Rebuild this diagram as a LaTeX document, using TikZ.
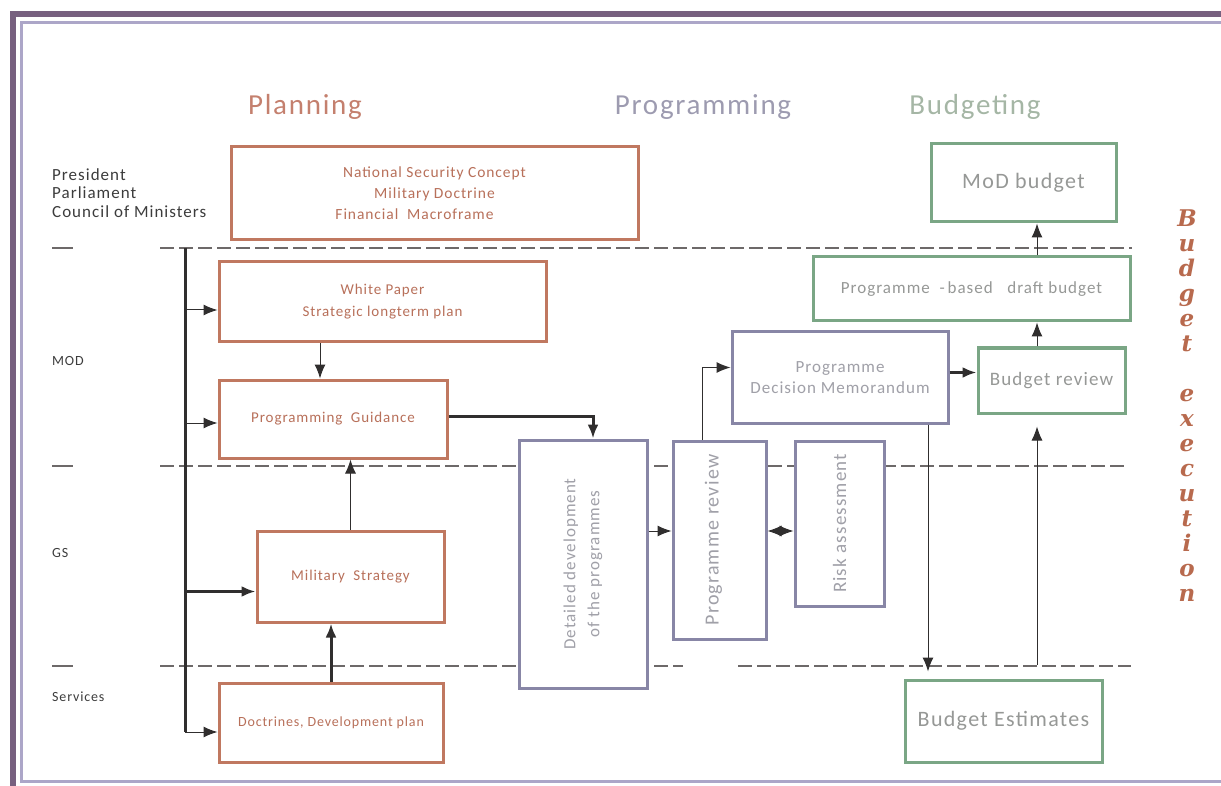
\documentclass[tikz,border=0pt]{standalone}
\usepackage{fontspec}
\setmainfont{Carlito}[LetterSpace=6]
\newfontfamily\execfont{DejaVu Serif}
\usepackage{tikz}
\usetikzlibrary{positioning,calc,arrows.meta}

\definecolor{planbrown}{RGB}{192,120,96}
\definecolor{plantext}{RGB}{184,112,90}
\definecolor{planhead}{RGB}{196,128,110}
\definecolor{progline}{RGB}{136,134,166}
\definecolor{progtext}{RGB}{160,160,168}
\definecolor{proghead}{RGB}{157,155,176}
\definecolor{budline}{RGB}{122,166,133}
\definecolor{budtext}{RGB}{150,152,150}
\definecolor{budhead}{RGB}{165,182,165}
\definecolor{execbrown}{RGB}{184,106,78}
\definecolor{dashgray}{RGB}{109,105,105}
\definecolor{arrowgray}{RGB}{48,46,46}
\definecolor{framepurple}{RGB}{119,96,127}
\definecolor{framelav}{RGB}{172,166,200}
\definecolor{labelgray}{RGB}{60,60,60}

\tikzset{
    planbox/.style={draw=planbrown, line width=3pt, fill=white, text=plantext, align=center, inner sep=0pt},
    progbox/.style={draw=progline, line width=3pt, fill=white, text=progtext, align=center, inner sep=0pt},
    budbox/.style={draw=budline, line width=3pt, fill=white, text=budtext, align=center, inner sep=0pt},
    headtext/.style={anchor=base, font=\fontsize{29}{34}\selectfont},
    rowlabel/.style={anchor=west, align=left, text=labelgray, inner sep=0pt},
    tierline/.style={draw=dashgray, line width=2.6pt, dash pattern=on 14pt off 5pt},
    tiertick/.style={draw=dashgray, line width=2.6pt},
    thinarr/.style={draw=arrowgray, line width=1pt, -{Latex[length=14pt,width=11pt]}},
    thickarr/.style={draw=arrowgray, line width=3pt, -{Latex[length=14pt,width=11pt]}},
    bothtip/.style={draw=arrowgray, line width=1pt, {Latex[length=14pt,width=11pt]}-{Latex[length=14pt,width=11pt]}},
    execstack/.style={anchor=north, align=center, text=execbrown, inner sep=0pt, font=\execfont\bfseries\itshape\fontsize{23}{25}\selectfont}
}

\begin{document}
\begin{tikzpicture}[x=1pt, y=-1pt]
    \useasboundingbox (0,0) rectangle (1221,786);

    % Frame
    \draw[draw=framepurple, line width=6pt] (1221,14) -- (13,14) -- (13,786);
    \draw[draw=framelav, line width=3pt] (1221,22.5) -- (21.5,22.5) -- (21.5,781) -- (1221,781);

    % Column titles
    \node[headtext, text=planhead] (tplan) at (305,115) {Planning};
    \node[headtext, text=proghead] (tprog) at (703,115) {Programming};
    \node[headtext, text=budhead] (tbud) at (975,115) {Budgeting};

    % Row labels
    \node[rowlabel, font=\fontsize{17}{18.5}\selectfont] (lpres) at (52,193) {President\\Parliament\\Council of Ministers};
    \node[rowlabel, font=\fontsize{14}{16}\selectfont] (lmod) at (52,361) {MOD};
    \node[rowlabel, font=\fontsize{14}{16}\selectfont] (lgs) at (52,553) {GS};
    \node[rowlabel, font=\fontsize{14}{16}\selectfont] (lserv) at (52,697) {Services};

    % Tier separators
    \draw[tiertick] (52,248) -- (73,248);
    \draw[tierline] (160,248) -- (1132,248);
    \draw[tiertick] (52,466) -- (73,466);
    \draw[tierline] (160,466) -- (1128,466);
    \draw[tiertick] (52,666) -- (73,666);
    \draw[tierline] (160,666) -- (683,666);
    \draw[tierline] (738,666) -- (1131,666);

    % Planning
    \node[planbox, minimum width=407, minimum height=93, font=\fontsize{15.5}{21}\selectfont] (nsc) at (434.5,193.5) {National Security Concept\\Military Doctrine\\Financial\ \ Macroframe\hspace*{40pt}};
    \node[planbox, minimum width=327, minimum height=80, font=\fontsize{15}{22}\selectfont] (wp) at (382.5,302) {White Paper\\Strategic longterm plan};
    \node[planbox, minimum width=228, minimum height=78, font=\fontsize{15}{18}\selectfont] (pg) at (333,419) {Programming\ \ Guidance};
    \node[planbox, minimum width=187, minimum height=91, font=\fontsize{15}{18}\selectfont] (ms) at (350.5,576.5) {Military\ \ Strategy};
    \node[planbox, minimum width=224, minimum height=79, font=\fontsize{14}{18}\selectfont] (doc) at (331,722.5) {Doctrines, Development plan};

    % Programming
    \node[progbox, minimum width=128, minimum height=248] (det) at (583,564) {};
    \node[text=progtext, rotate=90, align=center, font=\fontsize{17}{24}\selectfont] (dett) at (det) {Detailed development\\of the programmes};
    \node[progbox, minimum width=93, minimum height=198] (prv) at (719.5,540) {};
    \node[text=progtext, rotate=90, font=\fontsize{20}{24}\selectfont] (prvt) at ([xshift=-6pt]prv.center) {Programme review};
    \node[progbox, minimum width=89, minimum height=165] (risk) at (839.5,523.5) {};
    \node[text=progtext, rotate=90, font=\fontsize{19}{24}\selectfont] (riskt) at (risk) {Risk assessment};
    \node[progbox, minimum width=216, minimum height=91, font=\fontsize{17}{21}\selectfont] (pdm) at (840,377.5) {Programme\\Decision Memorandum};

    % Budgeting
    \node[budbox, minimum width=185, minimum height=78, font=\fontsize{22}{24}\selectfont] (mod) at (1023.5,183) {MoD budget};
    \node[budbox, minimum width=317, minimum height=64, font=\fontsize{17}{20}\selectfont] (pbd) at (971.5,289) {Programme\ \ -\,based\ \ \ draft budget};
    \node[budbox, minimum width=147, minimum height=65, font=\fontsize{19}{22}\selectfont] (brv) at (1051.5,380.5) {Budget review};
    \node[budbox, minimum width=197, minimum height=82, font=\fontsize{22}{24}\selectfont] (bes) at (1003.5,721) {Budget Estimates};

    % Budget execution
    \node[execstack] (exec) at (1187,210) {B\\u\\d\\g\\e\\t\\[25pt]e\\x\\e\\c\\u\\t\\i\\o\\n};

    % Distribution line
    \coordinate (ttop) at (185,248);
    \coordinate (tbot) at (185,732);
    \draw[draw=arrowgray, line width=3pt] (ttop) -- (tbot);
    \coordinate (twp) at ([yshift=-8pt]wp.west);
    \coordinate (tpg) at ([yshift=-4pt]pg.west);
    \coordinate (tms) at ([yshift=-15pt]ms.west);
    \draw[thinarr] (ttop |- twp) -- (twp);
    \draw[thinarr] (ttop |- tpg) -- (tpg);
    \draw[thickarr] (ttop |- tms) -- (tms);
    \draw[thinarr] (tbot) -- (tbot -| doc.west);

    % Planning flow
    \draw[thinarr] ([xshift=-13pt]pg.north |- wp.south) -- ([xshift=-13pt]pg.north);
    \draw[thinarr] (ms.north) -- (ms.north |- pg.south);
    \draw[thickarr] (doc.north) -- (doc.north |- ms.south);
    \draw[thickarr] ([yshift=3pt]pg.east) -| ([xshift=10pt]det.north);

    % Programming flow
    \draw[thinarr] ([yshift=33pt]det.east) -- ([yshift=33pt]det.east -| prv.west);
    \draw[thinarr] ([xshift=-17.5pt]prv.north) |- ([yshift=10pt]pdm.west);
    \draw[bothtip] ([yshift=9pt]prv.east) -- ([yshift=9pt]prv.east -| risk.west);
    \draw[thickarr] ([yshift=5pt]pdm.east) -- ([yshift=5pt]pdm.east -| brv.west);
    \draw[thinarr, shorten >=7pt] ([xshift=88pt]pdm.south) -- ([xshift=88pt]pdm.south |- bes.north);

    % Budgeting flow
    \draw[thinarr, shorten <=14pt, shorten >=12pt] ([xshift=33.5pt]bes.north) -- ([xshift=33.5pt]bes.north |- brv.south);
    \draw[thinarr] ([xshift=-14.5pt]brv.north) -- ([xshift=-14.5pt]brv.north |- pbd.south);
    \draw[thinarr] ([xshift=65.5pt]pbd.north) -- ([xshift=65.5pt]pbd.north |- mod.south);
\end{tikzpicture}
\end{document}
